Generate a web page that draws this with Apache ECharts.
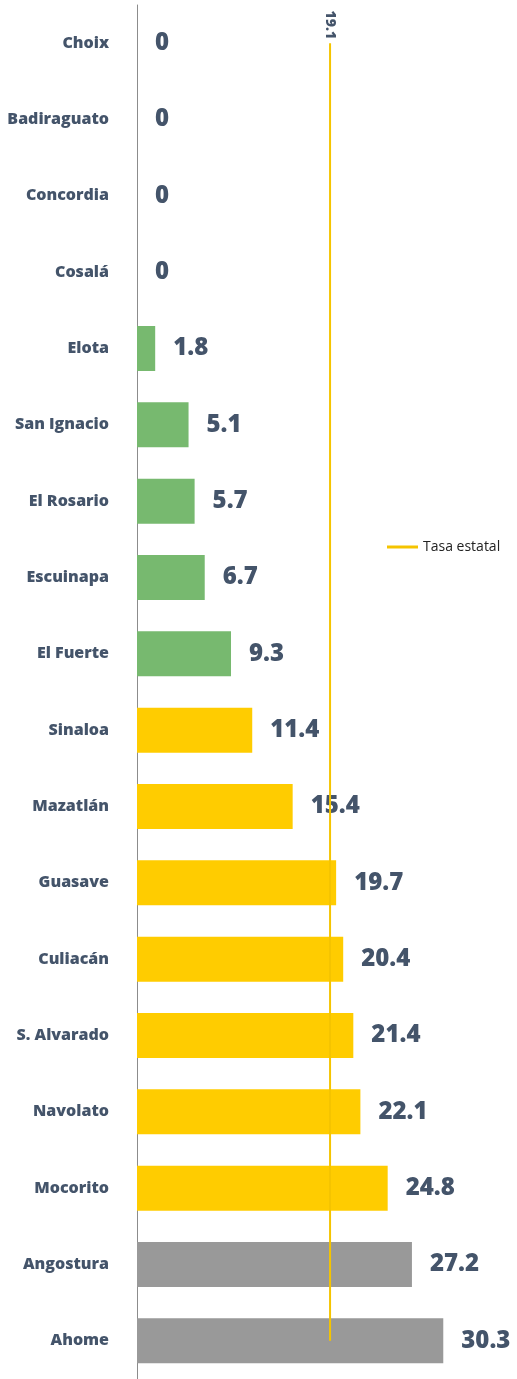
<!DOCTYPE html>
<html>
<head>
<meta charset="utf-8">
<script src="https://cdn.jsdelivr.net/npm/echarts@6/dist/echarts.min.js"></script>
<style>
  html, body { margin: 0; padding: 0; background: #fff; }
  #chart { width: 517px; height: 1379px; }
</style>
</head>
<body>
<div id="chart"></div>
<script>
// municipios, de arriba hacia abajo
const municipios = ["Choix", "Badiraguato", "Concordia", "Cosalá", "Elota", "San Ignacio",
  "El Rosario", "Escuinapa", "El Fuerte", "Sinaloa", "Mazatlán", "Guasave", "Culiacán",
  "S. Alvarado", "Navolato", "Mocorito", "Angostura", "Ahome"];
const tasas = [0, 0, 0, 0, 1.8, 5.1, 5.7, 6.7, 9.3, 11.4, 15.4, 19.7, 20.4, 21.4, 22.1, 24.8, 27.2, 30.3];
const tasaEstatal = 19.1;

const verde = "#77B96F";
const amarillo = "#FFCC00";
const gris = "#999999";
const texto = "#44546A";

function colorBarra(v, i) {
  if (i >= 16) return gris;
  if (v >= 10) return amarillo;
  return verde;
}

const chart = echarts.init(document.getElementById("chart"));

chart.setOption({
  backgroundColor: "#fff",
  animation: false,
  textStyle: { fontFamily: "Open Sans" },
  legend: {
    data: ["Tasa estatal"],
    orient: "vertical",
    left: 382,
    top: 535,
    itemWidth: 31,
    itemHeight: 3,
    itemGap: 6,
    icon: "rect",
    textStyle: { color: "#222", fontSize: 14 }
  },
  grid: { left: 137, right: 6, top: 5, height: 1380, containLabel: false },
  xAxis: {
    type: "value",
    min: 0,
    max: 37,
    show: false
  },
  yAxis: {
    type: "category",
    inverse: true,
    data: municipios,
    axisLine: { show: true, lineStyle: { color: "#8c8c8c", width: 1 } },
    axisTick: { show: false },
    axisLabel: {
      margin: 28,
      color: texto,
      fontWeight: 800,
      fontSize: 16,
      fontFamily: "Open Sans"
    }
  },
  series: [
    {
      name: "Tasa",
      type: "bar",
      barWidth: "59%",
      data: tasas.map((v, i) => ({ value: v, itemStyle: { color: colorBarra(v, i) } })),
      label: {
        show: true,
        position: "right",
        distance: 18,
        color: texto,
        fontWeight: 800,
        fontSize: 24,
        fontFamily: "Open Sans"
      }
    },
    {
      name: "Tasa estatal",
      type: "line",
      data: municipios.map((m, i) => i === 0 ? {
        value: tasaEstatal,
        label: {
          show: true,
          position: "top",
          distance: 4,
          rotate: -90,
          align: "right",
          verticalAlign: "middle",
          color: texto,
          fontWeight: 800,
          fontSize: 14,
          formatter: "{c}"
        }
      } : tasaEstatal),
      showSymbol: true,
      symbol: "circle",
      symbolSize: 0,
      color: "#F5C400",
      lineStyle: { color: "#F5C400", width: 2 },
      z: 5
    }
  ]
});
</script>
</body>
</html>
